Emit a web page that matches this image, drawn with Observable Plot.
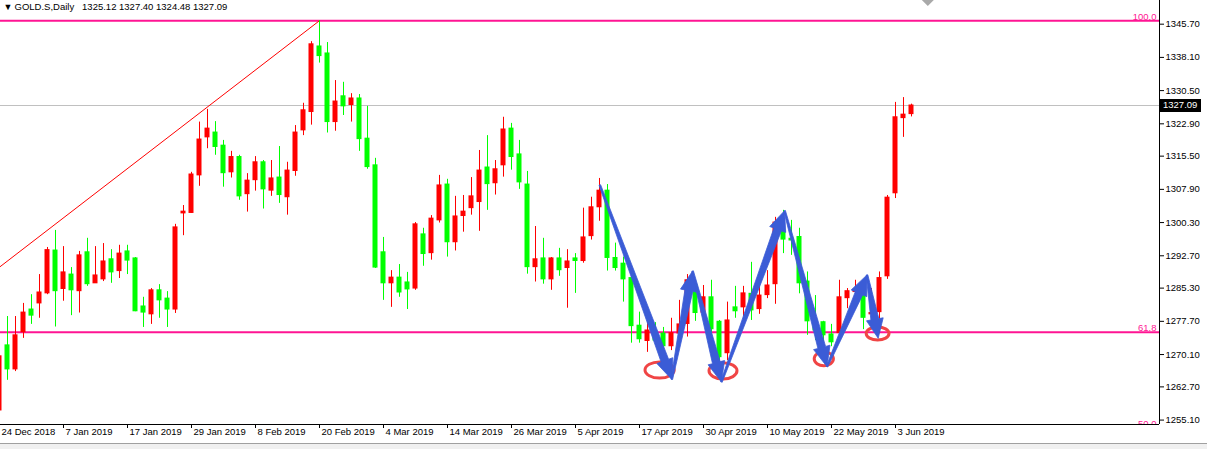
<!DOCTYPE html>
<html>
<head>
<meta charset="utf-8">
<script src="https://cdn.jsdelivr.net/npm/d3@7"></script>
<script src="https://cdn.jsdelivr.net/npm/@observablehq/plot@0.6"></script>
<style>
  body { margin: 0; background: #fff; }
  #wrap { position: relative; width: 1207px; height: 449px; overflow: hidden; background: #fff; }
  #tabs { position: absolute; left: 0; top: 443px; width: 1207px; height: 6px; background: #f0f0f0; border-top: 1px solid #a0a0a0; }
</style>
</head>
<body>
<div id="wrap"><div id="tabs"></div></div>
<script>
// ---- chart data ----
const symbol = "GOLD.S";
const timeframe = "Daily";

const open = [1257.3,1272.2,1266.7,1275.2,1280.4,1281.8,1284.1,1293.9,1285.1,1288.4,
1284.6,1293.5,1286.4,1287.3,1291.9,1289.2,1293.7,1292.1,1281.1,1279.3,
1284.8,1282.9,1280.4,1302.4,1302.5,1311.1,1319.8,1320.9,1317.9,1311.8,
1315.3,1306.8,1310.0,1314.1,1307.6,1310.6,1306.1,1312.1,1321.4,1325.6,
1340.6,1339.0,1323.3,1329.2,1327.2,1328.7,1319.5,1313.4,1293.5,1286.4,
1287.7,1286.6,1285.2,1297.6,1293.3,1300.8,1309.0,1295.8,1301.8,1303.6,
1305.0,1312.9,1309.3,1313.4,1321.8,1315.9,1309.0,1290.1,1292.1,1287.3,
1292.1,1289.9,1292.1,1291.5,1297.2,1303.8,1307.6,1292.2,1290.9,1287.6,
1276.7,1273.2,1274.9,1274.9,1272.0,1274.9,1277.1,1285.9,1279.7,1283.2,
1277.6,1270.4,1280.9,1280.9,1284.0,1280.5,1283.7,1286.2,1298.5,1296.6,
1297.0,1286.8,1277.9,1277.5,1274.7,1275.0,1283.0,1284.4,1284.4,1279.3,
1279.8,1288.0,1307.0,1324.2,1325.12];
const high = [1270.1,1278.8,1278.8,1281.8,1283.8,1288.4,1294.6,1298.5,1294.8,1290.0,
1293.7,1296.7,1294.8,1295.5,1294.1,1295.1,1295.1,1292.3,1283.2,1285.2,
1286.1,1284.5,1299.9,1304.2,1311.8,1323.3,1326.2,1323.4,1319.1,1316.6,
1315.7,1311.5,1315.4,1314.5,1314.5,1317.7,1314.1,1322.5,1327.6,1341.7,
1346.5,1341.5,1332.8,1332.4,1329.8,1329.6,1326.9,1315.0,1296.9,1289.3,
1290.7,1288.9,1300.3,1299.0,1301.9,1311.1,1310.2,1306.3,1306.5,1310.6,
1316.8,1320.2,1314.5,1324.4,1323.0,1319.1,1312.0,1299.4,1296.7,1292.3,
1294.4,1294.1,1293.2,1303.6,1306.1,1310.4,1309.0,1295.6,1292.4,1288.6,
1279.8,1277.5,1277.4,1276.3,1278.4,1282.5,1288.4,1287.1,1285.9,1287.1,
1277.9,1282.1,1285.7,1285.7,1291.2,1285.9,1289.3,1301.5,1303.1,1300.8,
1299.0,1289.0,1283.6,1277.7,1277.0,1287.1,1285.2,1287.1,1286.3,1285.2,
1289.0,1306.5,1327.8,1328.9,1327.40];
const low = [1256.4,1264.2,1266.2,1273.8,1277.0,1278.4,1283.8,1276.4,1282.3,1279.0,
1279.6,1285.7,1286.4,1286.8,1286.4,1287.5,1288.4,1279.9,1276.3,1277.0,
1278.4,1276.3,1279.5,1297.3,1302.4,1308.6,1317.2,1315.7,1308.4,1310.5,
1305.4,1302.7,1307.5,1303.4,1306.3,1304.7,1302.0,1310.9,1320.2,1322.6,
1336.8,1320.8,1321.2,1324.8,1323.3,1316.6,1312.5,1289.8,1282.5,1280.9,
1283.2,1280.4,1284.8,1290.3,1291.7,1300.2,1292.4,1293.8,1298.1,1302.0,
1298.3,1303.1,1306.6,1310.7,1312.3,1307.9,1288.5,1286.7,1286.2,1284.8,
1288.0,1280.7,1284.1,1291.0,1296.3,1300.6,1289.2,1289.2,1282.1,1272.7,
1272.7,1270.6,1272.2,1266.5,1271.0,1274.2,1274.1,1277.7,1277.7,1274.1,
1265.1,1268.7,1278.4,1278.7,1277.9,1279.3,1282.9,1281.6,1293.2,1292.8,
1284.0,1274.5,1273.3,1269.4,1271.9,1272.9,1280.6,1282.5,1275.8,1277.4,
1274.9,1287.3,1305.8,1319.8,1324.48];
const close = [1269.7,1266.7,1274.5,1279.7,1279.0,1284.3,1294.0,1284.6,1288.9,1284.8,
1292.8,1286.2,1288.2,1291.4,1288.9,1293.2,1291.6,1280.0,1279.7,1284.8,
1282.5,1280.4,1299.2,1302.8,1311.3,1319.3,1321.8,1317.6,1311.6,1315.3,
1306.3,1309.9,1314.1,1307.9,1310.4,1306.6,1312.2,1320.9,1326.0,1341.1,
1338.4,1323.3,1328.0,1326.9,1328.7,1319.4,1313.0,1290.0,1286.4,1287.7,
1284.3,1285.0,1299.9,1293.1,1301.2,1308.8,1295.8,1301.7,1302.8,1306.3,
1312.2,1309.1,1312.5,1321.6,1315.3,1309.5,1290.1,1291.9,1287.3,1292.1,
1289.4,1291.4,1291.5,1296.9,1303.8,1307.6,1292.2,1289.9,1287.3,1276.6,
1273.6,1275.6,1273.3,1272.0,1275.0,1277.0,1287.1,1279.6,1283.2,1275.9,
1269.5,1277.9,1280.0,1284.1,1280.2,1283.6,1285.9,1300.3,1296.4,1296.2,
1286.4,1277.7,1275.6,1274.5,1272.9,1283.2,1284.6,1284.9,1278.5,1279.6,
1287.6,1306.0,1324.4,1325.0,1327.09];

// date axis: one label every 8 bars (bar index -> label)
const xTickIndex = [0, 8, 16, 24, 32, 40, 48, 56, 64, 72, 80, 88, 96, 104, 112];
const xTickLabels = ["24 Dec 2018", "7 Jan 2019", "17 Jan 2019", "29 Jan 2019", "8 Feb 2019",
  "20 Feb 2019", "4 Mar 2019", "14 Mar 2019", "26 Mar 2019", "5 Apr 2019", "17 Apr 2019",
  "30 Apr 2019", "10 May 2019", "22 May 2019", "3 Jun 2019"];
const yTicks = [1345.70, 1338.10, 1330.50, 1322.90, 1315.50, 1307.90, 1300.30,
  1292.70, 1285.30, 1277.70, 1270.10, 1262.70, 1255.10];

// Fibonacci retracement levels
const fibLabels = ["100.0", "61.8", "50.0"];
const fibPrices = [1346.5, 1275.2, 1253.3];
// Fibonacci base line (bar index, price)
const trendIndex = [0, 40];
const trendPrice = [1290.1, 1346.5];

// hand-drawn annotations (bar index, price)
const arrowX1 = [75.1, 84.1, 86.7, 90.3, 98.2, 103.5, 108.5];
const arrowY1 = [1308.8, 1264.3, 1289.1, 1263.7, 1302.9, 1267.2, 1288.2];
const arrowX2 = [84.1, 86.7, 90.3, 98.2, 103.5, 108.5, 109.9];
const arrowY2 = [1264.3, 1289.1, 1263.7, 1302.9, 1267.2, 1288.2, 1273.7];
const ellX1 = [80.75, 88.75, 101.9, 108.4];
const ellX2 = [84.4, 92.25, 104.3, 111.25];
const ellY1 = [1264.6, 1264.4, 1267.4, 1273.3];
const ellY2 = [1268.3, 1268.1, 1270.6, 1276.3];
// chart-shift marker (bar index)
const shiftIndex = [116.1];

// ---- build ----
const bars = open.map((o, i) => ({i, open: o, high: high[i], low: low[i], close: close[i]}));
const last = bars[bars.length - 1];
const fib = fibLabels.map((label, k) => ({label, price: fibPrices[k]}));
const trend = trendIndex.map((x, k) => ({x, y: trendPrice[k]}));
const candleColor = d => d.close >= d.open ? "#ff0000" : "#00ff00";
const fmt = d3.format(".2f");

const W = 1207, H = 442, MR = 48, MB = 18;
const xDomain = [0.125, 145];
const yDomain = [1254.09, 1351.12];
const FONT = "Liberation Sans, Arial, sans-serif";

const header = `${symbol},${timeframe}\u00a0\u00a0\u00a0${fmt(last.open)} ${fmt(last.high)} ${fmt(last.low)} ${fmt(last.close)}`;

function annotations(index, scales) {
  const g = d3.create("svg:g");
  for (let k = 0; k < ellX1.length; k++) {
    const xa = scales.x(ellX1[k]), xb = scales.x(ellX2[k]);
    const ya = scales.y(ellY1[k]), yb = scales.y(ellY2[k]);
    g.append("ellipse")
      .attr("cx", (xa + xb) / 2).attr("cy", (ya + yb) / 2)
      .attr("rx", Math.abs(xb - xa) / 2).attr("ry", Math.abs(yb - ya) / 2)
      .attr("fill", "none").attr("stroke", "#f04545").attr("stroke-width", 3);
  }
  for (let k = 0; k < arrowX1.length; k++) {
    const x0 = scales.x(arrowX1[k]), y0 = scales.y(arrowY1[k]);
    const x1 = scales.x(arrowX2[k]), y1 = scales.y(arrowY2[k]);
    const dx = x1 - x0, dy = y1 - y0, L = Math.hypot(dx, dy);
    const ux = dx / L, uy = dy / L, nx = -uy, ny = ux;
    const hl = Math.min(20, L * 0.3), hw = 8.5, s0 = 0.8, s1 = 4;
    const bx = x1 - ux * hl, by = y1 - uy * hl;
    const pts = [[x0 + nx * s0, y0 + ny * s0], [bx + nx * s1, by + ny * s1], [bx + nx * hw, by + ny * hw],
      [x1, y1], [bx - nx * hw, by - ny * hw], [bx - nx * s1, by - ny * s1], [x0 - nx * s0, y0 - ny * s0]];
    g.append("path")
      .attr("d", "M" + pts.map(p => p[0].toFixed(1) + "," + p[1].toFixed(1)).join("L") + "Z")
      .attr("fill", "#3b5cd6").attr("stroke", "#3b5cd6").attr("stroke-width", 0.8)
      .attr("stroke-linejoin", "round");
  }
  return g.node();
}

function shiftMarker(index, scales, values, dims) {
  const g = d3.create("svg:g");
  for (const s of shiftIndex) {
    const x = scales.x(s);
    g.append("path").attr("d", `M${x - 7},-1L${x + 7},-1L${x},6Z`).attr("fill", "#a9a9a9");
  }
  return g.node();
}

function bidLabel(index, scales, values, dims) {
  const y = Math.round(scales.y(last.close));
  const x = dims.width - dims.marginRight + 1;
  const g = d3.create("svg:g");
  g.append("rect").attr("x", x).attr("y", y - 6).attr("width", 41).attr("height", 13).attr("fill", "#000");
  g.append("text").attr("x", x + 3).attr("y", y).attr("dy", "0.35em").attr("text-anchor", "start")
    .attr("fill", "#fff").attr("font-size", 9.5).attr("font-family", FONT).text(fmt(last.close));
  return g.node();
}

const chart = Plot.plot({
  width: W, height: H,
  marginTop: 0, marginLeft: 0, marginRight: MR, marginBottom: MB,
  x: {domain: xDomain},
  y: {domain: yDomain},
  color: {type: "identity"},
  style: {fontFamily: FONT, fontSize: "9.5px", color: "#000", background: "#fff", overflow: "visible"},
  marks: [
    Plot.ruleY([last.close], {stroke: "#c0c0c0"}),
    Plot.ruleY(fib, {y: "price", stroke: "#ff1493", strokeWidth: 2, clip: true}),
    Plot.line(trend, {x: "x", y: "y", stroke: "#ff0000", strokeWidth: 1, clip: true}),
    Plot.ruleX(bars, {x: "i", y1: "low", y2: "high", stroke: candleColor, clip: true}),
    Plot.rect(bars, {x1: d => d.i - 0.3125, x2: d => d.i + 0.3125, y1: "open", y2: "close",
      fill: candleColor, insetTop: -0.5, insetBottom: -0.5, clip: true}),
    Plot.text(fib, {x: () => xDomain[1], y: "price", text: "label", textAnchor: "end",
      lineAnchor: "bottom", dx: -3, dy: -1, fill: "#ff1493", clip: true}),
    annotations,
    shiftMarker,
    Plot.ruleX([xDomain[1]], {stroke: "#000"}),
    Plot.ruleY([yDomain[0]], {stroke: "#000"}),
    Plot.axisY(yTicks, {anchor: "right", tickSize: 4, tickPadding: 2, tickFormat: fmt}),
    Plot.axisX(xTickIndex, {anchor: "bottom", tickSize: 4, fill: "none"}),
    Plot.axisX(xTickIndex, {anchor: "bottom", tickSize: 0, tickPadding: 4,
      tickFormat: (d) => xTickLabels[xTickIndex.indexOf(d)], textAnchor: "start", dx: 2}),
    bidLabel,
    Plot.text(["\u25BC"], {frameAnchor: "top-left", dx: 3, dy: 3, lineAnchor: "top", textAnchor: "start", fontSize: 9}),
    Plot.text([header], {frameAnchor: "top-left", dx: 14, dy: 3, lineAnchor: "top", textAnchor: "start"})
  ]
});
document.getElementById("wrap").prepend(chart);
</script>
</body>
</html>
